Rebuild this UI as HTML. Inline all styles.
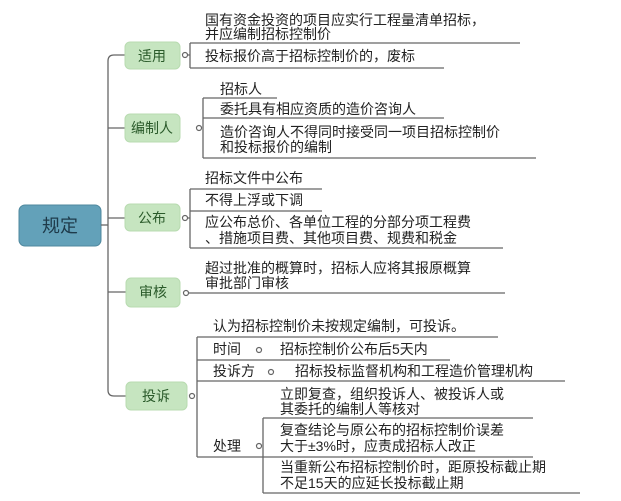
<!DOCTYPE html>
<html><head><meta charset="utf-8"><style>
html,body{margin:0;padding:0;background:#fff;}
svg{display:block;}
text{font-family:"Liberation Sans","Noto Sans CJK SC",sans-serif;font-size:14px;fill:#222;}
.g{fill:#c6e5c0;stroke:#b8dbb0;stroke-width:1;}
.l{stroke:#666;stroke-width:1.3;fill:none;}
.c{fill:#fff;stroke:#666;stroke-width:1.2;}
</style></head><body>
<svg width="621" height="501" viewBox="0 0 621 501">
<!-- root -->
<rect x="19" y="205" width="82" height="41" rx="6" fill="#63a1b9" stroke="#4f889e"/>
<text x="60" y="232" text-anchor="middle" style="font-size:18px;fill:#1e3a4a">规定</text>
<path class="l" d="M101 225 H108"/>
<path class="l" d="M114 55 Q108 55 108 61 V390 Q108 396 114 396 H126"/>
<path class="l" d="M108 55 M114 55 H125 M108 128 H125 M108 218 H125 M108 292 H126"/>

<!-- 适用 -->
<rect class="g" x="125" y="42" width="55" height="27" rx="5"/>
<text x="152" y="61" text-anchor="middle" style="fill:#2a5a2a">适用</text>
<circle class="c" cx="185" cy="55" r="2.5"/>
<path class="l" d="M188 55 H190 M190 43 V68 M190 43 H520 M190 68 H444"/>
<text x="205" y="25">国有资金投资的项目应实行工程量清单招标，</text>
<text x="205" y="39">并应编制招标控制价</text>
<text x="205" y="61">投标报价高于招标控制价的，废标</text>

<!-- 编制人 -->
<rect class="g" x="125" y="114" width="55" height="28" rx="5"/>
<text x="152" y="133" text-anchor="middle" style="fill:#2a5a2a">编制人</text>
<circle class="c" cx="199" cy="128" r="2.5"/>
<path class="l" d="M203 98 V158 M203 98 H277 M203 118 H444 M203 158 H536"/>
<text x="220" y="94">招标人</text>
<text x="220" y="114">委托具有相应资质的造价咨询人</text>
<text x="220" y="137">造价咨询人不得同时接受同一项目招标控制价</text>
<text x="220" y="152">和投标报价的编制</text>

<!-- 公布 -->
<rect class="g" x="125" y="204" width="55" height="27" rx="5"/>
<text x="152" y="223" text-anchor="middle" style="fill:#2a5a2a">公布</text>
<circle class="c" cx="185" cy="218" r="2.5"/>
<path class="l" d="M188 218 H190 M190 189 V248 M190 189 H322 M190 211 H322 M190 248 H503"/>
<text x="205" y="183">招标文件中公布</text>
<text x="205" y="205">不得上浮或下调</text>
<text x="205" y="227">应公布总价、各单位工程的分部分项工程费</text>
<text x="205" y="243">、措施项目费、其他项目费、规费和税金</text>

<!-- 审核 -->
<rect class="g" x="126" y="278" width="54" height="29" rx="5"/>
<text x="153" y="297" text-anchor="middle" style="fill:#2a5a2a">审核</text>
<circle class="c" cx="186" cy="293" r="2.5"/>
<path class="l" d="M189 293 H505"/>
<text x="205" y="273">超过批准的概算时，招标人应将其报原概算</text>
<text x="205" y="288">审批部门审核</text>

<!-- 投诉 -->
<rect class="g" x="126" y="382" width="61" height="28" rx="5"/>
<text x="156" y="401" text-anchor="middle" style="fill:#2a5a2a">投诉</text>
<circle class="c" cx="192" cy="396" r="2.5"/>
<path class="l" d="M197 337 V457 M197 337 H498 M197 360 H450 M197 381 H565 M197 457 H263"/>
<text x="213" y="331">认为招标控制价未按规定编制，可投诉。</text>
<text x="213" y="354">时间</text>
<circle class="c" cx="259" cy="350" r="2.5"/>
<text x="280" y="354">招标控制价公布后5天内</text>
<text x="213" y="376">投诉方</text>
<circle class="c" cx="271" cy="372" r="2.5"/>
<text x="295" y="376">招标投标监督机构和工程造价管理机构</text>
<text x="213" y="451">处理</text>
<circle class="c" cx="259" cy="446" r="2.5"/>
<path class="l" d="M263 418 V493 M263 418 H533 M263 457 H533 M263 493 H580"/>
<text x="280" y="399">立即复查，组织投诉人、被投诉人或</text>
<text x="280" y="414">其委托的编制人等核对</text>
<text x="280" y="435">复查结论与原公布的招标控制价误差</text>
<text x="280" y="451">大于±3%时，应责成招标人改正</text>
<text x="280" y="472">当重新公布招标控制价时，距原投标截止期</text>
<text x="280" y="488">不足15天的应延长投标截止期</text>
</svg>
</body></html>
